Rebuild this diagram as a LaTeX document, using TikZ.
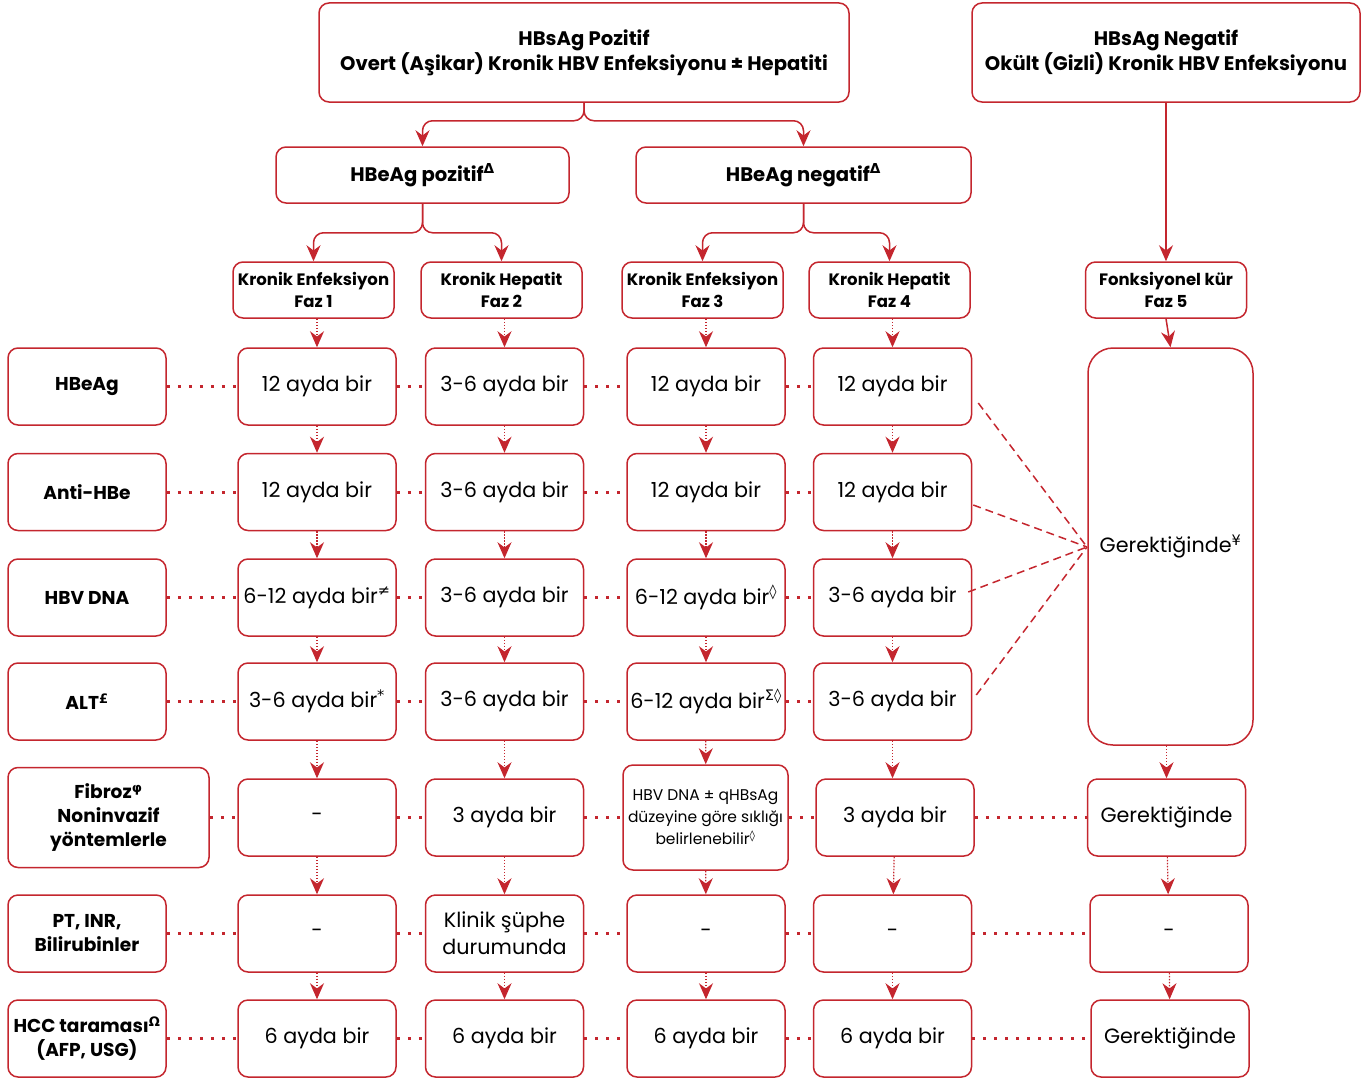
\documentclass[tikz,border=0pt]{standalone}
\usepackage{fontspec}
\setmainfont{Poppins}
\newfontfamily\symfnt{DejaVu Sans}
\usetikzlibrary{arrows.meta}
\definecolor{hred}{RGB}{196,38,46}
\newcommand{\fn}[1]{\textsuperscript{\symfnt #1}}

\begin{document}
\begin{tikzpicture}[x=1pt,y=-1pt,
    box/.style={draw=hred, line width=1.5pt, rounded corners=10pt, fill=white, align=center,
      inner sep=2pt, minimum width=158pt, minimum height=77pt, font=\fontsize{20.7}{27}\selectfont},
    head/.style={box, font=\bfseries\fontsize{19.6}{25}\selectfont},
    lab/.style={box, font=\bfseries\fontsize{18.6}{24}\selectfont},
    phase/.style={box, minimum width=161pt, minimum height=56pt, font=\bfseries\fontsize{16.5}{22}\selectfont},
    conn/.style={draw=hred, line width=1.5pt, rounded corners=10pt, -{Stealth[length=16pt,width=14pt]}},
    darr/.style={draw=hred, line width=1.2pt, dash pattern=on 1.5pt off 1.5pt, -{Stealth[length=16pt,width=14pt]}},
    dots/.style={draw=hred, line width=3pt, dash pattern=on 3pt off 8pt},
    dashln/.style={draw=hred, line width=1.5pt, dash pattern=on 8pt off 5pt}]
  \useasboundingbox (0,0) rectangle (1365,1081);

  \node[head, minimum width=530pt, minimum height=99pt] (pos) at (584,52.5) {HBsAg Pozitif\\Overt (Aşikar) Kronik HBV Enfeksiyonu ± Hepatiti};
  \node[head, minimum width=388pt, minimum height=99pt] (neg) at (1166,52.5) {HBsAg Negatif\\Okült (Gizli) Kronik HBV Enfeksiyonu};
  \node[head, minimum width=293pt, minimum height=56pt] (epos) at (422.5,175) {HBeAg pozitif\fn{Δ}};
  \node[head, minimum width=335pt, minimum height=56pt] (eneg) at (803.5,175) {HBeAg negatif\fn{Δ}};

  \node[phase] (f1) at (313.5,290) {Kronik Enfeksiyon\\Faz 1};
  \node[phase] (f2) at (501.5,290) {Kronik Hepatit\\Faz 2};
  \node[phase] (f3) at (702.5,290) {Kronik Enfeksiyon\\Faz 3};
  \node[phase] (f4) at (889.5,290) {Kronik Hepatit\\Faz 4};
  \node[phase] (f5) at (1166,290) {Fonksiyonel kür\\Faz 5};

  \node[lab] (l1) at (87,386.5) {HBeAg};
  \node[lab] (l2) at (87,492) {Anti-HBe};
  \node[lab] (l3) at (87,597.5) {HBV DNA};
  \node[lab] (l4) at (87,701.5) {ALT\fn{£}};
  \node[lab, minimum width=201pt, minimum height=100pt] (l5) at (108.5,817.5) {Fibroz\fn{φ}\\Noninvazif\\yöntemlerle};
  \node[lab] (l6) at (87,933.5) {PT, INR,\\Bilirubinler};
  \node[lab] (l7) at (87,1038.5) {HCC taraması\fn{Ω}\\(AFP, USG)};

  \node[box] (a1) at (317,386.5) {12 ayda bir};
  \node[box] (a2) at (317,492) {12 ayda bir};
  \node[box] (a3) at (317,597.5) {6-12 ayda bir\fn{≠}};
  \node[box] (a4) at (317,701.5) {3-6 ayda bir\fn{*}};
  \node[box] (a5) at (317,817.5) {-};
  \node[box] (a6) at (317,933.5) {-};
  \node[box] (a7) at (317,1038.5) {6 ayda bir};

  \node[box] (b1) at (504.5,386.5) {3-6 ayda bir};
  \node[box] (b2) at (504.5,492) {3-6 ayda bir};
  \node[box] (b3) at (504.5,597.5) {3-6 ayda bir};
  \node[box] (b4) at (504.5,701.5) {3-6 ayda bir};
  \node[box] (b5) at (504.5,817.5) {3 ayda bir};
  \node[box] (b6) at (504.5,933.5) {Klinik şüphe\\durumunda};
  \node[box] (b7) at (504.5,1038.5) {6 ayda bir};

  \node[box] (c1) at (706,386.5) {12 ayda bir};
  \node[box] (c2) at (706,492) {12 ayda bir};
  \node[box] (c3) at (706,597.5) {6-12 ayda bir\fn{◊}};
  \node[box] (c4) at (706,701.5) {6-12 ayda bir\fn{Σ◊}};
  \node[box, minimum width=165pt, minimum height=105pt, font=\fontsize{15.5}{22}\selectfont] (c5) at (705.5,817.5) {HBV DNA ± qHBsAg\\düzeyine göre sıklığı\\belirlenebilir\fn{◊}};
  \node[box] (c6) at (706,933.5) {-};
  \node[box] (c7) at (706,1038.5) {6 ayda bir};

  \node[box] (d1) at (892.5,386.5) {12 ayda bir};
  \node[box] (d2) at (892.5,492) {12 ayda bir};
  \node[box] (d3) at (892.5,597.5) {3-6 ayda bir};
  \node[box] (d4) at (892.5,701.5) {3-6 ayda bir};
  \node[box] (d5) at (895,817.5) {3 ayda bir};
  \node[box] (d6) at (892.5,933.5) {-};
  \node[box] (d7) at (892.5,1038.5) {6 ayda bir};

  \node[box, minimum width=165pt, minimum height=397pt, rounded corners=25pt] (ger) at (1170.5,546.5) {Gerektiğinde\fn{¥}};
  \node[box] (e5) at (1166.5,817.5) {Gerektiğinde};
  \node[box] (e6) at (1169,933.5) {-};
  \node[box] (e7) at (1170,1038.5) {Gerektiğinde};
  \coordinate (meet) at (1087,547);

  \draw[conn] (pos.south) -- ++(0,18) -| (epos.north);
  \draw[conn] (pos.south) -- ++(0,18) -| (eneg.north);
  \draw[conn] (epos.south) -- ++(0,29) -| (f1.north);
  \draw[conn] (epos.south) -- ++(0,29) -| (f2.north);
  \draw[conn] (eneg.south) -- ++(0,29) -| (f3.north);
  \draw[conn] (eneg.south) -- ++(0,29) -| (f4.north);
  \draw[conn] (neg.south) -- (f5.north);
  \draw[conn] (f5.south) -- (ger.north);

  \draw[darr] (a1.north |- f1.south) -- (a1.north);
  \draw[darr] (b1.north |- f2.south) -- (b1.north);
  \draw[darr] (c1.north |- f3.south) -- (c1.north);
  \draw[darr] (d1.north |- f4.south) -- (d1.north);
  \draw[darr] (a1) -- (a2);  \draw[darr] (a2) -- (a3);  \draw[darr] (a3) -- (a4);
  \draw[darr] (a4) -- (a5);  \draw[darr] (a5) -- (a6);  \draw[darr] (a6) -- (a7);
  \draw[darr] (b1) -- (b2);  \draw[darr] (b2) -- (b3);  \draw[darr] (b3) -- (b4);
  \draw[darr] (b4) -- (b5);  \draw[darr] (b5) -- (b6);  \draw[darr] (b6) -- (b7);
  \draw[darr] (c1) -- (c2);  \draw[darr] (c2) -- (c3);  \draw[darr] (c3) -- (c4);
  \draw[darr] (c4) -- (c5);  \draw[darr] (c5) -- (c6);  \draw[darr] (c6) -- (c7);
  \draw[darr] (d1) -- (d2);  \draw[darr] (d2) -- (d3);  \draw[darr] (d3) -- (d4);
  \draw[darr] (d4.south) -- (d5.north -| d4.south);  \draw[darr] (d5) -- (d6);  \draw[darr] (d6) -- (d7);
  \draw[darr] (ger.south -| e5.north) -- (e5.north);
  \draw[darr] (e5) -- (e6);  \draw[darr] (e6) -- (e7);

  \draw[dots] (l1.east) -- (a1.west) (a1.east) -- (b1.west) (b1.east) -- (c1.west) (c1.east) -- (d1.west);
  \draw[dots] (l2.east) -- (a2.west) (a2.east) -- (b2.west) (b2.east) -- (c2.west) (c2.east) -- (d2.west);
  \draw[dots] (l3.east) -- (a3.west) (a3.east) -- (b3.west) (b3.east) -- (c3.west) (c3.east) -- (d3.west);
  \draw[dots] (l4.east) -- (a4.west) (a4.east) -- (b4.west) (b4.east) -- (c4.west) (c4.east) -- (d4.west);
  \draw[dots] (l5.east) -- (a5.west) (a5.east) -- (b5.west) (b5.east) -- (c5.west) (c5.east) -- (d5.west) (d5.east) -- (e5.west);
  \draw[dots] (l6.east) -- (a6.west) (a6.east) -- (b6.west) (b6.east) -- (c6.west) (c6.east) -- (d6.west) (d6.east) -- (e6.west);
  \draw[dots] (l7.east) -- (a7.west) (a7.east) -- (b7.west) (b7.east) -- (c7.west) (c7.east) -- (d7.west) (d7.east) -- (e7.west);

  \draw[dashln] ([xshift=6pt,yshift=-16.5pt]d1.east) -- (meet);
  \draw[dashln] ([xshift=1pt,yshift=-13pt]d2.east) -- (meet);
  \draw[dashln] ([xshift=-4pt,yshift=5.5pt]d3.east) -- (meet);
  \draw[dashln] ([xshift=4pt,yshift=6.5pt]d4.east) -- (meet);
\end{tikzpicture}
\end{document}
